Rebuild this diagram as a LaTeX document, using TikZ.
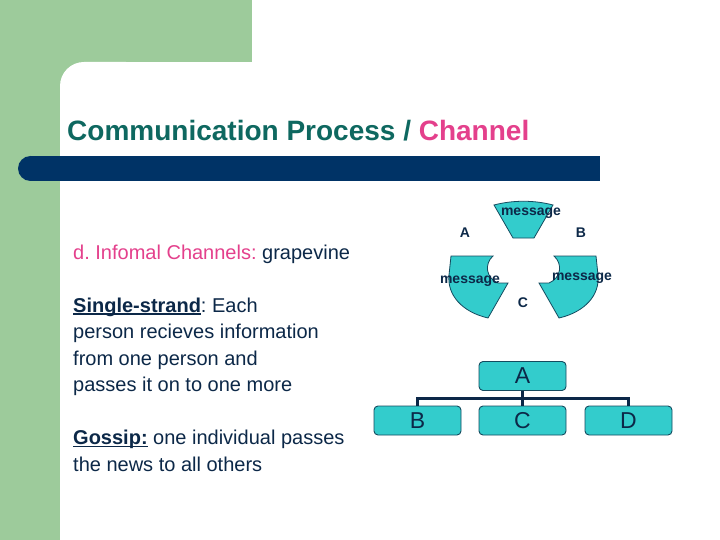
\documentclass[tikz,border=0pt]{standalone}
\usepackage{fontspec}
\setmainfont{Liberation Sans}
\frenchspacing
\newsavebox{\ulbox}
\newcommand{\ulword}[1]{\sbox{\ulbox}{#1}\rlap{\rule[-2.8pt]{\wd\ulbox}{1.4pt}}\usebox{\ulbox}}

\definecolor{leaf}{RGB}{157,203,155}
\definecolor{barnavy}{RGB}{0,51,102}
\definecolor{titleteal}{RGB}{14,104,96}
\definecolor{rose}{RGB}{228,64,140}
\definecolor{ink}{RGB}{12,40,72}
\definecolor{cyanfill}{RGB}{51,204,204}
\definecolor{edge}{RGB}{20,75,95}

\begin{document}
\begin{tikzpicture}[x=1pt,y=-1pt,
  txt/.style={anchor=base west,inner sep=0pt,text=ink,font=\fontsize{20}{24}\selectfont},
  piece/.style={fill=cyanfill,draw=edge,line width=0.8pt},
  tag/.style={inner sep=0pt,text=ink,font=\fontsize{14}{16}\selectfont\bfseries},
  box/.style={draw=edge,fill=cyanfill,rounded corners=4pt,line width=0.9pt,
    minimum width=87pt,minimum height=29pt,inner sep=0pt,text=ink,
    font=\fontsize{23}{25}\selectfont},
  link/.style={draw=ink,line width=3pt}]
\useasboundingbox (0,0) rectangle (720,540);
\fill[white] (0,0) rectangle (720,540);
% slide frame
\fill[leaf] (0,0) rectangle (252,62);
\fill[leaf] (0,0) rectangle (60,540);
\fill[leaf] (60,62) rectangle (90,92);
\fill[white,rounded corners=24pt] (60,62) rectangle (150,150);
\fill[barnavy] (30.5,156) rectangle (600,181);
\fill[barnavy] (30.5,168.5) circle (12.5);
\node[anchor=base west,inner sep=0pt,font=\fontsize{28}{32}\selectfont\bfseries,
  text=titleteal] (title) at (67,141) {Communication Process / \textcolor{rose}{Channel}};
% left text
\node[txt] (kind) at (73,259) {\textcolor{rose}{d. Infomal Channels:} grapevine};
\node[txt] (s1) at (73,312) {\ulword{\textbf{Single-strand}}: Each};
\node[txt] (s2) at (73,338.5) {person recieves information};
\node[txt] (s3) at (73,365) {from one person and};
\node[txt] (s4) at (73,391.5) {passes it on to one more};
\node[txt] (g1) at (73,444.5) {\ulword{\textbf{Gossip:}} one individual passes};
\node[txt] (g2) at (73,471) {the news to all others};
% single strand cycle
\draw[piece] (494,205) .. controls (513,200) and (534,200) .. (553,205)
  -- (534,238) -- (513,238) -- cycle;
\draw[piece] (451,256) -- (493,256) .. controls (484,264) and (486,278) .. (498,283)
  -- (508,283) -- (488,318) .. controls (462,312) and (447,295) .. (449,275) -- cycle;
\draw[piece] (596,256) -- (554,256) .. controls (563,264) and (561,278) .. (549,283)
  -- (539,283) -- (559,318) .. controls (585,312) and (600,295) .. (598,275) -- cycle;
\node[tag] (mtop) at (531,213) {message};
\node[tag] (mleft) at (470,281) {message};
\node[tag] (mright) at (582,278) {message};
\node[tag] (pa) at (465,233) {A};
\node[tag] (pb) at (581,233) {B};
\node[tag] (pc) at (523,303) {C};
% gossip tree
\node[box] (A) at (522.5,376) {A};
\node[box] (B) at (417.5,420.5) {B};
\node[box] (C) at (522.5,420.5) {C};
\node[box] (D) at (628.5,420.5) {D};
\coordinate (bus) at (522.5,398);
\draw[link] (A.south) -- (C.north);
\draw[link] (B.north) |- (bus) -| (D.north);
\end{tikzpicture}
\end{document}
